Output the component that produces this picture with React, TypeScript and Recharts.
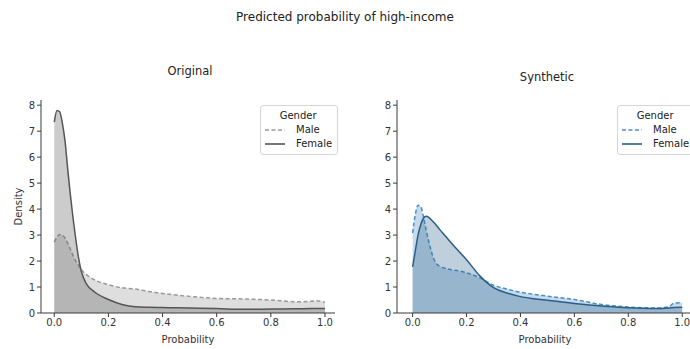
import { Area, ComposedChart, Legend, XAxis, YAxis } from "recharts";

const probX = [0, 0.01, 0.02, 0.03, 0.04, 0.05, 0.06, 0.07, 0.08, 0.09, 0.1, 0.12, 0.15, 0.2, 0.25, 0.3, 0.35, 0.4, 0.45, 0.5, 0.6, 0.7, 0.8, 0.9, 0.95, 0.97, 1.0];

const origMale = [2.73, 2.92, 3.02, 3.0, 2.88, 2.68, 2.44, 2.2, 2.0, 1.82, 1.67, 1.47, 1.27, 1.09, 0.97, 0.92, 0.83, 0.75, 0.69, 0.64, 0.56, 0.54, 0.5, 0.43, 0.45, 0.47, 0.41];
const origFemale = [7.35, 7.8, 7.75, 7.3, 6.6, 5.5, 4.5, 3.6, 2.8, 2.1, 1.6, 1.1, 0.8, 0.52, 0.33, 0.24, 0.22, 0.21, 0.2, 0.19, 0.17, 0.14, 0.15, 0.16, 0.17, 0.17, 0.17];

const synthMale = [3.08, 3.8, 4.15, 4.1, 3.7, 3.2, 2.75, 2.35, 2.05, 1.88, 1.8, 1.72, 1.66, 1.55, 1.35, 1.07, 0.92, 0.8, 0.72, 0.65, 0.52, 0.33, 0.23, 0.19, 0.24, 0.38, 0.4];
const synthFemale = [1.78, 2.4, 3.0, 3.4, 3.65, 3.72, 3.68, 3.58, 3.47, 3.35, 3.22, 2.98, 2.62, 2.05, 1.42, 0.98, 0.77, 0.63, 0.55, 0.49, 0.37, 0.27, 0.2, 0.17, 0.19, 0.21, 0.22];

const xTicks = [0, 0.2, 0.4, 0.6, 0.8, 1.0];
const yTicks = [0, 1, 2, 3, 4, 5, 6, 7, 8];

const FONT = "'DejaVu Sans', sans-serif";
const AXIS = "#3a3a3a";
const TICK_TEXT = "#333";

interface Palette {
  male: string;
  maleFill: string;
  female: string;
  femaleFill: string;
}

const grey: Palette = { male: "#999999", maleFill: "#999999", female: "#555555", femaleFill: "#555555" };
const blue: Palette = { male: "#4a8fc4", maleFill: "#4a90c2", female: "#2b5d87", femaleFill: "#2e5f8a" };

function GenderLegend({ pal }: { pal: Palette }) {
  return (
    <div
      style={{
        fontFamily: FONT,
        fontSize: 10,
        color: "#222",
        background: "rgba(255,255,255,0.8)",
        border: "1px solid #d6d6d6",
        borderRadius: 3,
        padding: "3px 5px 3px 3px",
        lineHeight: "14px",
      }}
    >
      <div style={{ textAlign: "center" }}>Gender</div>
      {[
        { name: "Male", color: pal.male, dash: "4 2.5" },
        { name: "Female", color: pal.female, dash: undefined },
      ].map((e) => (
        <div key={e.name} style={{ display: "flex", alignItems: "center" }}>
          <svg width={22} height={8} style={{ marginRight: 10 }}>
            <line x1={1} y1={4} x2={21} y2={4} stroke={e.color} strokeWidth={1.6} strokeDasharray={e.dash} />
          </svg>
          <span>{e.name}</span>
        </div>
      ))}
    </div>
  );
}

function KdePanel({
  male,
  female,
  pal,
  domain,
  width,
  showYLabel,
  legendLeft,
}: {
  male: number[];
  female: number[];
  pal: Palette;
  domain: [number, number];
  width: number;
  showYLabel: boolean;
  legendLeft: number;
}) {
  const rows = probX.map((x, i) => ({ x, male: male[i], female: female[i] }));
  return (
    <ComposedChart width={width} height={349} data={rows} margin={{ top: 100, right: 0, left: 0, bottom: 6 }}>
      <XAxis
        dataKey="x"
        type="number"
        domain={domain}
        ticks={xTicks}
        tickFormatter={(v) => Number(v).toFixed(1)}
        allowDataOverflow
        stroke={AXIS}
        tickSize={4}
        height={30}
        tick={{ fill: TICK_TEXT, fontSize: 10, fontFamily: FONT }}
        label={{ value: "Probability", position: "insideBottom", offset: 0, fill: TICK_TEXT, fontSize: 10, fontFamily: FONT }}
      />
      <YAxis
        type="number"
        domain={[0, 8.2]}
        ticks={yTicks}
        allowDataOverflow
        stroke={AXIS}
        tickSize={4}
        width={41}
        tick={{ fill: TICK_TEXT, fontSize: 10, fontFamily: FONT }}
        label={
          showYLabel
            ? { value: "Density", angle: -90, position: "insideLeft", offset: 18, fill: TICK_TEXT, fontSize: 10, fontFamily: FONT, style: { textAnchor: "middle" } }
            : undefined
        }
      />
      <Legend
        layout="vertical"
        align="center"
        verticalAlign="middle"
        wrapperStyle={{ position: "absolute", left: legendLeft, top: 105, width: "auto" }}
        content={() => <GenderLegend pal={pal} />}
      />
      <Area
        type="monotone"
        dataKey="male"
        stroke={pal.male}
        strokeWidth={1.5}
        strokeDasharray="4 2.5"
        fill={pal.maleFill}
        fillOpacity={0.32}
        isAnimationActive={false}
        dot={false}
        activeDot={false}
      />
      <Area
        type="monotone"
        dataKey="female"
        stroke={pal.female}
        strokeWidth={1.5}
        fill={pal.femaleFill}
        fillOpacity={0.3}
        isAnimationActive={false}
        dot={false}
        activeDot={false}
      />
    </ComposedChart>
  );
}

export default function App() {
  return (
    <div
      style={{
        position: "fixed",
        left: 0,
        top: 0,
        width: 690,
        height: 349,
        background: "#fff",
        overflow: "hidden",
        fontFamily: FONT,
      }}
    >
      <div style={{ position: "absolute", left: 0, width: 690, top: 10, textAlign: "center", fontSize: 12, color: "#222" }}>
        Predicted probability of high-income
      </div>
      <div style={{ position: "absolute", left: 90, width: 200, top: 64, textAlign: "center", fontSize: 11.5, color: "#222" }}>
        Original
      </div>
      <div style={{ position: "absolute", left: 447, width: 200, top: 70, textAlign: "center", fontSize: 11.5, color: "#222" }}>
        Synthetic
      </div>
      <div style={{ position: "absolute", left: 0, top: 0 }}>
        <KdePanel male={origMale} female={origFemale} pal={grey} domain={[-0.049, 1.037]} width={335} showYLabel legendLeft={260} />
      </div>
      <div style={{ position: "absolute", left: 356, top: 0 }}>
        <KdePanel male={synthMale} female={synthFemale} pal={blue} domain={[-0.058, 1.04]} width={337} showYLabel={false} legendLeft={261} />
      </div>
    </div>
  );
}
